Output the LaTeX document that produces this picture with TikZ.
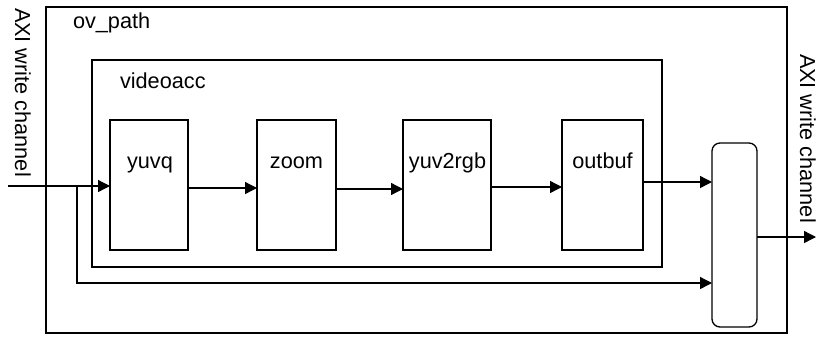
\documentclass[tikz,border=0pt]{standalone}
\usepackage{fontspec}
\setmainfont{Liberation Sans}
\usetikzlibrary{arrows.meta}
\begin{document}
\begin{tikzpicture}[x=1pt,y=-1pt,
  line width=1.3pt,
  every node/.style={inner sep=0pt,outer sep=0pt},
  txt/.style={font=\fontsize{21.7}{26}\selectfont},
  blk/.style={draw,line width=1.3pt},
  arr/.style={-{Triangle[length=12pt,width=12pt]}}]
\useasboundingbox (0,0) rectangle (816,338);
% frames
\node[blk,minimum width=741pt,minimum height=326pt] (ov) at (416.5,170) {};
\node[blk,minimum width=570pt,minimum height=207pt] (va) at (377,163.5) {};
\node[txt,anchor=base west] (ovt) at (73,28) {ov\_path};
\node[txt,anchor=base west] (vat) at (120,88) {videoacc};
% blocks
\node[blk,minimum width=78pt,minimum height=130pt] (yuvq) at (149,185) {};
\node[blk,minimum width=79pt,minimum height=130pt] (zoom) at (296.5,185) {};
\node[blk,minimum width=88pt,minimum height=130pt] (yuv2rgb) at (447,185) {};
\node[blk,minimum width=81pt,minimum height=130pt] (outbuf) at (602.5,185) {};
\node[blk,rounded corners=8pt,minimum width=45pt,minimum height=184pt] (mux) at (734.5,235) {};
\node[txt,anchor=base] (yuvqt) at (150,168) {yuvq};
\node[txt,anchor=base] (zoomt) at (296.5,168) {zoom};
\node[txt,anchor=base] (yuv2rgbt) at (447.5,168) {yuv2rgb};
\node[txt,anchor=base] (outbuft) at (602.5,168) {outbuf};
% side labels
\node[txt,rotate=-90,anchor=base west] (axil) at (15,8) {AXI write channel};
\node[txt,rotate=-90,anchor=base west] (axir) at (800,54) {AXI write channel};
% connectors
\coordinate (in1) at (8,186);
\coordinate (br) at (77,186);
\coordinate (out1) at (816,237);
\draw[arr] (in1) -- (yuvq.west |- in1);
\draw[arr] (yuvq.east |- 0,188) -- (zoom.west |- 0,188);
\draw[arr] (zoom.east |- 0,189) -- (yuv2rgb.west |- 0,189);
\draw[arr] (yuv2rgb.east |- 0,187) -- (outbuf.west |- 0,187);
\draw[arr] (outbuf.east |- 0,182) -- (mux.west |- 0,182);
\draw[arr] (br) |- (mux.west |- 0,283);
\draw[arr] (mux.east |- out1) -- (out1);
\end{tikzpicture}
\end{document}
